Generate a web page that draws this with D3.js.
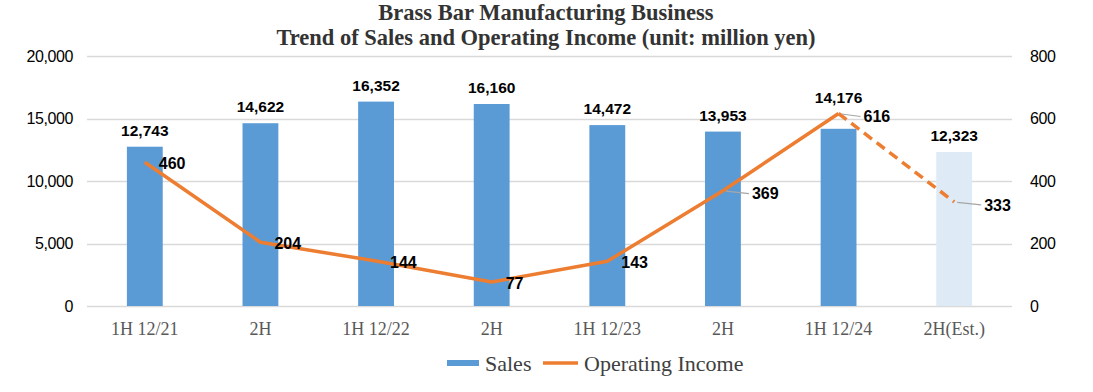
<!DOCTYPE html>
<html>
<head>
<meta charset="utf-8">
<script src="https://cdn.jsdelivr.net/npm/d3@7"></script>
<style>
  body { margin: 0; background: #fff; }
  svg { display: block; }
</style>
</head>
<body>
<div id="chart"></div>
<script>
// Chart data.
const periods = ["1H 12/21", "2H", "1H 12/22", "2H", "1H 12/23", "2H", "1H 12/24", "2H(Est.)"];
const sales = [12743, 14622, 16352, 16160, 14472, 13953, 14176, 12323];
const operatingIncome = [460, 204, 144, 77, 143, 369, 616, 333];
const salesTicks = [0, 5000, 10000, 15000, 20000];
const incomeTicks = [0, 200, 400, 600, 800];
const estimateIndex = 7; // last period is a forecast

const width = 1093;
const height = 392;
const margin = { top: 56, right: 81, bottom: 86, left: 87 };

const SANS = "'Liberation Sans', Arial, Helvetica, sans-serif";
const SERIF = "'Liberation Serif', 'Times New Roman', serif";
const BLUE = "#5b9bd5";
const PALE_BLUE = "#deebf7";
const ORANGE = "#ed7d31";
const GRID = "#d9d9d9";

const svg = d3.select("#chart")
  .append("svg")
    .attr("width", width)
    .attr("height", height);

const x = d3.scaleBand()
  .domain(d3.range(periods.length))
  .range([margin.left, width - margin.right])
  .paddingInner(0.69)
  .paddingOuter(0.345);

const ySales = d3.scaleLinear()
  .domain([0, 20000])
  .range([height - margin.bottom, margin.top]);

const yIncome = d3.scaleLinear()
  .domain([0, 800])
  .range([height - margin.bottom, margin.top]);

const cx = i => x(i) + x.bandwidth() / 2;

// Title, two lines.
svg.append("text")
    .attr("x", 546)
    .attr("y", 20)
    .attr("text-anchor", "middle")
    .style("font-family", SERIF)
    .style("font-weight", "bold")
    .style("font-size", "22.5px")
    .style("fill", "#333")
  .selectAll("tspan")
  .data(["Brass Bar Manufacturing Business",
         "Trend of Sales and Operating Income (unit: million yen)"])
  .join("tspan")
    .attr("x", 546)
    .attr("dy", (d, i) => i ? 25 : 0)
    .text(d => d);

// Gridlines.
svg.append("g")
  .selectAll("line")
  .data(salesTicks)
  .join("line")
    .attr("x1", margin.left)
    .attr("x2", width - margin.right)
    .attr("y1", d => Math.round(ySales(d)) + 0.5)
    .attr("y2", d => Math.round(ySales(d)) + 0.5)
    .attr("stroke", GRID)
    .attr("stroke-width", 1.3);

// Left axis (sales).
const leftAxis = svg.append("g")
  .attr("transform", `translate(${margin.left - 14},0)`)
  .call(d3.axisLeft(ySales).tickValues(salesTicks).tickFormat(d3.format(",")).tickSize(0).tickPadding(0));
leftAxis.select(".domain").remove();
leftAxis.selectAll("text")
  .style("font-family", SANS)
  .style("font-size", "16px")
  .style("letter-spacing", "-0.4px")
  .style("fill", "#000");

// Right axis (operating income).
const rightAxis = svg.append("g")
  .attr("transform", `translate(${width - margin.right + 18},0)`)
  .call(d3.axisRight(yIncome).tickValues(incomeTicks).tickSize(0).tickPadding(0));
rightAxis.select(".domain").remove();
rightAxis.selectAll("text")
  .style("font-family", SANS)
  .style("font-size", "16px")
  .style("letter-spacing", "-0.4px")
  .style("fill", "#000");

// Category labels.
svg.append("g")
  .selectAll("text")
  .data(periods)
  .join("text")
    .attr("x", (d, i) => cx(i))
    .attr("y", 335)
    .attr("text-anchor", "middle")
    .style("font-family", SERIF)
    .style("font-size", "18px")
    .style("fill", "#595959")
    .text(d => d);

// Sales bars.
svg.append("g")
  .selectAll("rect")
  .data(sales)
  .join("rect")
    .attr("x", (d, i) => x(i))
    .attr("y", d => ySales(d))
    .attr("width", x.bandwidth())
    .attr("height", d => ySales(0) - ySales(d))
    .attr("fill", (d, i) => i === estimateIndex ? PALE_BLUE : BLUE);

// Sales value labels; the 1H 12/24 one is lifted clear of the line peak.
svg.append("g")
  .selectAll("text")
  .data(sales)
  .join("text")
    .attr("x", (d, i) => cx(i))
    .attr("y", (d, i) => ySales(d) - (i === 6 ? 26 : 11))
    .attr("text-anchor", "middle")
    .style("font-family", SANS)
    .style("font-weight", "bold")
    .style("font-size", "15.5px")
    .style("fill", "#000")
    .text(d => d3.format(",")(d));

// Operating income line: solid for actuals, dashed into the estimate.
const line = d3.line()
  .x(d => cx(d.i))
  .y(d => yIncome(d.v));

const points = operatingIncome.map((v, i) => ({ i, v }));

svg.append("path")
  .datum(points.slice(0, estimateIndex))
  .attr("d", line)
  .attr("fill", "none")
  .attr("stroke", ORANGE)
  .attr("stroke-width", 3.5)
  .attr("stroke-linejoin", "round");

svg.append("path")
  .datum(points.slice(estimateIndex - 1))
  .attr("d", line)
  .attr("fill", "none")
  .attr("stroke", ORANGE)
  .attr("stroke-width", 3.5)
  .attr("stroke-dasharray", "10,6");

// Income labels sit to the right of each point; a few are pushed out
// further with a thin grey leader line, as in the original.
const pushed = { 5: 29, 6: 25, 7: 30 };

svg.append("g")
  .selectAll("line")
  .data(points.filter(d => pushed[d.i]))
  .join("line")
    .attr("x1", d => cx(d.i) + 3)
    .attr("y1", d => yIncome(d.v) + 0.5)
    .attr("x2", d => cx(d.i) + pushed[d.i] - 3)
    .attr("y2", d => yIncome(d.v) + 3)
    .attr("stroke", "#a6a6a6")
    .attr("stroke-width", 1.2);

svg.append("g")
  .selectAll("text")
  .data(points)
  .join("text")
    .attr("x", d => cx(d.i) + (pushed[d.i] || 14))
    .attr("y", d => yIncome(d.v) + (pushed[d.i] ? 3 : 1))
    .attr("dy", "0.35em")
    .style("font-family", SANS)
    .style("font-weight", "bold")
    .style("font-size", "16px")
    .style("fill", "#000")
    .text(d => d.v);

// Legend.
const legend = svg.append("g")
  .style("font-family", SERIF)
  .style("font-size", "22px")
  .style("fill", "#404040");

legend.append("rect")
  .attr("x", 447).attr("y", 360)
  .attr("width", 32).attr("height", 6)
  .attr("fill", BLUE);
legend.append("text")
  .attr("x", 485).attr("y", 371)
  .text("Sales");

legend.append("line")
  .attr("x1", 543).attr("x2", 578)
  .attr("y1", 363).attr("y2", 363)
  .attr("stroke", ORANGE)
  .attr("stroke-width", 3.5);
legend.append("text")
  .attr("x", 584).attr("y", 371)
  .text("Operating Income");
</script>
</body>
</html>
